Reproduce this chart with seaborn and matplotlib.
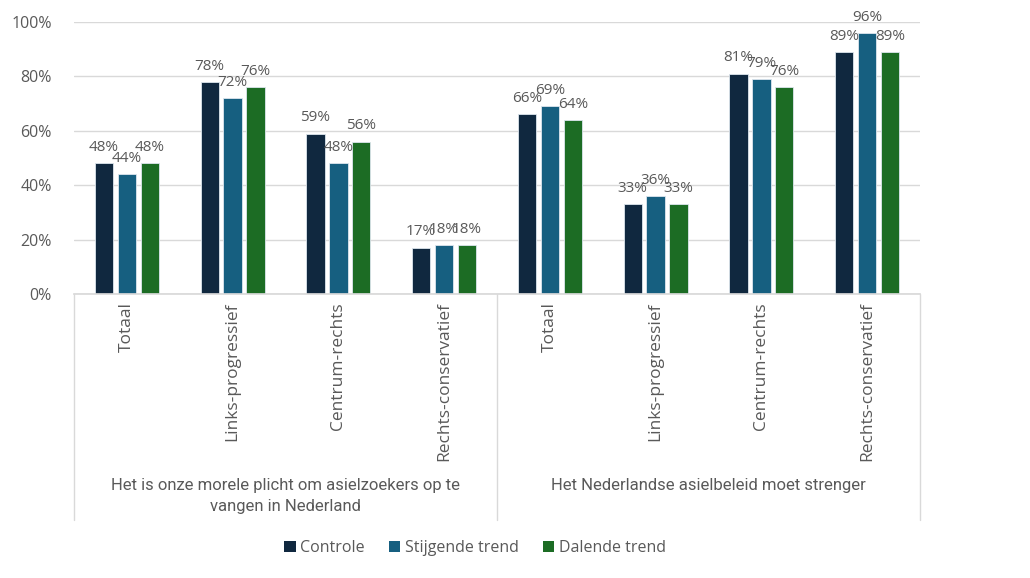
import matplotlib
matplotlib.use("Agg")
import matplotlib.pyplot as plt
import seaborn as sns
import pandas as pd
from matplotlib.patches import Patch
from matplotlib import font_manager

statements = ["Het is onze morele plicht om asielzoekers op te\nvangen in Nederland",
              "Het Nederlandse asielbeleid moet strenger"]
categories = ["Totaal", "Links-progressief", "Centrum-rechts", "Rechts-conservatief"]
series = ["Controle", "Stijgende trend", "Dalende trend"]
controle = [48, 78, 59, 17, 66, 33, 81, 89]
stijgende = [44, 72, 48, 18, 69, 36, 79, 96]
dalende = [48, 76, 56, 18, 64, 33, 76, 89]
colors = ["#10283F", "#165F80", "#1C6C24"]

sns.set_theme(style="white")
plt.rcParams['font.family'] = ['Open Sans', 'DejaVu Sans']
grey = "#595959"

rows = []
keys = []
for s_i, st in enumerate(statements):
    for c_i, cat in enumerate(categories):
        k = f"{s_i}-{cat}"
        keys.append(k)
for i, k in enumerate(keys):
    for name, vals in zip(series, [controle, stijgende, dalende]):
        rows.append({"key": k, "series": name, "value": vals[i]})
df = pd.DataFrame(rows)

fig = plt.figure(figsize=(10.30, 5.78), dpi=100)
ax = fig.add_axes([74/1030, 1-294/578, (920-74)/1030, 272/578])

sns.barplot(data=df, x="key", y="value", hue="series", order=keys, hue_order=series,
            palette=colors, saturation=1, width=0.65, gap=0.2, ax=ax, legend=False,
            edgecolor="#dde6ee", linewidth=0.6)

ax.set_xlim(-0.5, 7.5)
ax.set_ylim(0, 100)
ax.set_yticks(range(0, 101, 20))
ax.set_yticklabels([f"{v}%" for v in range(0, 101, 20)], color=grey, fontsize=11.5)
ax.grid(axis="y", color="#d9d9d9", linewidth=1)
ax.set_axisbelow(True)
for sp in ["left", "right", "top"]:
    ax.spines[sp].set_visible(False)
ax.spines["bottom"].set_color("#d9d9d9")
ax.tick_params(axis="both", length=0)
ax.tick_params(axis="y", pad=16)
ax.set_xticks(range(len(keys)))
ax.set_xticklabels(categories * 2, rotation=90, va="top", ha="center", color=grey, fontsize=12.5)
ax.tick_params(axis="x", pad=6)
ax.set_xlabel("")
ax.set_ylabel("")

for cont in ax.containers:
    ax.bar_label(cont, labels=[f"{v:.0f}%" for v in cont.datavalues], padding=6,
                 color=grey, fontsize=11)

tr = ax.get_xaxis_transform()
for x in [-0.5, 3.5, 7.5]:
    ax.plot([x, x], [0, -226/272], transform=tr, color="#d9d9d9", lw=1, clip_on=False)

avail = {f.name for f in font_manager.fontManager.ttflist}
gfam = ['Liberation Sans Narrow', 'DejaVu Sans'] if 'Liberation Sans Narrow' in avail else ['Roboto', 'DejaVu Sans']
ax.text(1.5, -(478-294)/272, statements[0], transform=tr, ha="center", va="top",
        color=grey, fontsize=12, family=gfam, linespacing=1.5)
ax.text(5.5, -(478-294)/272, statements[1], transform=tr, ha="center", va="top",
        color=grey, fontsize=12, family=gfam, linespacing=1.5)

handles = [Patch(facecolor=c, edgecolor="none") for c in colors]
fig.legend(handles, series, loc="center", bbox_to_anchor=(475/1030, 1-548/578), ncol=3,
           frameon=False, handlelength=0.7, handleheight=0.7, handletextpad=0.3,
           columnspacing=1.5, labelcolor=grey, fontsize=11.5)

fig.savefig("out.png", dpi=100, facecolor="white")
